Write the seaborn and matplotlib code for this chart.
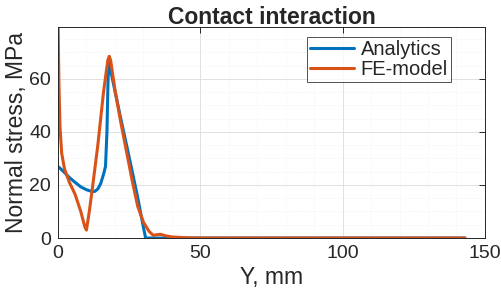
import matplotlib
matplotlib.use("Agg")
import matplotlib.pyplot as plt
import seaborn as sns
import pandas as pd
from matplotlib.ticker import MultipleLocator

# Analytics curve (Y, mm -> stress, MPa)
y_analytics = [0, 2, 4, 6, 8, 10, 12, 13, 14, 15, 16, 16.7, 17.2, 17.6, 17.9,
               18.5, 20, 22, 24, 26, 28, 30, 30.8, 60, 100, 143]
s_analytics = [27, 25, 22.8, 21, 19.3, 18.2, 17.5, 17.6, 18.5, 20.5, 24, 27, 40, 60, 66.2,
               63.2, 55.5, 45.3, 35.5, 25.5, 15.3, 4.1, 0, 0, 0, 0]

# FE-model curve
y_fe = [0, 0.3, 0.7, 1.3, 2.3, 4, 6, 8, 9.5, 10, 11, 12, 14, 16, 17.5, 18, 18.5,
        20, 22, 24, 26, 28, 30, 32, 33.5, 35, 36, 38, 40, 45, 50, 100, 143]
s_fe = [85, 60, 42, 32, 26, 21, 16.5, 10, 4, 3, 10, 18, 35, 55, 67, 68.5, 67,
        56, 44, 33, 22, 12, 6, 2.5, 1, 1.3, 1.4, 0.8, 0.4, 0.1, 0, 0, 0]

df = pd.concat([
    pd.DataFrame({"Y": y_analytics, "stress": s_analytics, "series": "Analytics"}),
    pd.DataFrame({"Y": y_fe, "stress": s_fe, "series": "FE-model"}),
])

sns.set_theme(style="white")
plt.rcParams["font.family"] = ["Liberation Sans", "DejaVu Sans"]

fig = plt.figure(figsize=(5.02, 2.98), dpi=100)
ax = fig.add_axes([0.1155, 0.2013, 0.8505, 0.7077])

sns.lineplot(data=df, x="Y", y="stress", hue="series",
             palette={"Analytics": "#0072BD", "FE-model": "#D95319"},
             linewidth=2.2, ax=ax, estimator=None, sort=False)

ax.set_xlim(0, 150)
ax.set_ylim(0, 79.5)
ax.set_xticks([0, 50, 100, 150])
ax.set_yticks([0, 20, 40, 60])
ax.xaxis.set_minor_locator(MultipleLocator(10))
ax.yaxis.set_minor_locator(MultipleLocator(5))
ax.grid(True, which="major", color="#dcdcdc", linewidth=0.6)
ax.grid(True, which="minor", color="#ececec", linewidth=0.5, linestyle=":")
ax.set_axisbelow(True)

for sp in ax.spines.values():
    sp.set_color("#262626")
    sp.set_linewidth(0.7)
ax.tick_params(direction="in", top=True, right=True, length=4, width=0.7,
               colors="#262626", labelsize=14, pad=5)
ax.tick_params(which="minor", length=0)

ax.set_xlabel("Y, mm", fontsize=16.5, color="#262626", labelpad=3)
ax.set_ylabel("Normal stress, MPa", fontsize=16.5, color="#262626", labelpad=1)
ax.set_title("Contact interaction", fontsize=16.5, fontweight="bold", pad=2)

leg = ax.legend(loc="upper right", bbox_to_anchor=(0.92, 0.955), fontsize=14.5,
                frameon=True, fancybox=False, edgecolor="#262626",
                handlelength=2.2, borderpad=0.15, labelspacing=0.05,
                handletextpad=0.3, borderaxespad=0)
leg.get_frame().set_linewidth(0.7)
for line in leg.get_lines():
    line.set_linewidth(2.2)

fig.savefig("out.png", dpi=100)
